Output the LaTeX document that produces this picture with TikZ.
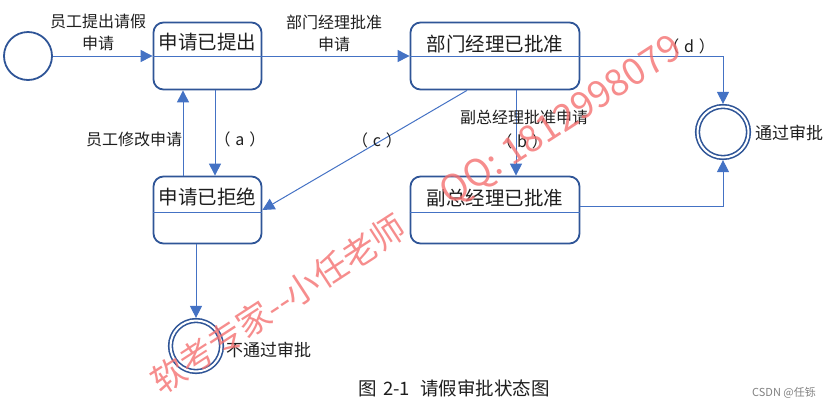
\documentclass[tikz,border=0pt]{standalone}
\usepackage{fontspec}
\setmainfont{Noto Sans CJK SC}
\usetikzlibrary{arrows.meta,calc}
\definecolor{boxc}{RGB}{47,85,151}
\definecolor{linec}{RGB}{68,114,196}
\definecolor{txt}{RGB}{30,30,30}
\definecolor{wmc}{RGB}{244,112,112}
\begin{document}
\begin{tikzpicture}[x=1pt,y=-1pt,
  stbox/.style={draw=boxc, line width=1.8pt, rounded corners=10pt, minimum height=67pt, inner sep=0pt},
  divl/.style={draw=linec, line width=1pt},
  arr/.style={draw=linec, line width=1pt, -{Triangle[length=12pt,width=12pt]}},
  initst/.style={circle, draw=boxc, line width=1.8pt, minimum size=48pt, inner sep=0pt},
  finst/.style={circle, draw=boxc, line width=1.6pt, double=white, double distance=2pt, minimum size=51pt, inner sep=0pt, outer sep=2.6pt},
  boxtxt/.style={text=txt, font=\fontsize{19.5}{22}\selectfont, inner sep=0pt},
  lbl/.style={text=txt, font=\fontsize{16}{22}\selectfont, inner sep=0pt, align=center},
  fintxt/.style={text=txt, font=\fontsize{17}{20}\selectfont, inner sep=0pt},
  wmark/.style={text=wmc, opacity=0.8, inner sep=0pt}
]
\path[use as bounding box] (0,0) rectangle (832,408);

% states
\node[initst] (init) at (28,56) {};
\node[stbox, minimum width=108pt] (b1) at (207.5,56) {};
\node[stbox, minimum width=169pt] (b2) at (495,56) {};
\node[stbox, minimum width=108pt] (b3) at (207.5,210) {};
\node[stbox, minimum width=169pt] (b4) at (495,210) {};
\node[finst] (f1) at (723,132) {};
\node[finst] (f2) at (196,346) {};

% dividers
\draw[divl] (b1.west) -- (b1.east);
\draw[divl] (b2.west) -- (b2.east);
\draw[divl] ([yshift=-2pt]b3.west) -- ([yshift=-2pt]b3.east);
\draw[divl] ([yshift=-2pt]b4.west) -- ([yshift=-2pt]b4.east);

% box texts
\node[boxtxt] (t1) at ([yshift=14pt]b1.center) {申请已提出};
\node[boxtxt] (t2) at ([yshift=12pt]b2.center) {部门经理已批准};
\node[boxtxt] (t3) at ([yshift=13pt]b3.center) {申请已拒绝};
\node[boxtxt] (t4) at ([yshift=12pt]b4.center) {副总经理已批准};

% connectors
\draw[arr] (init) -- (b1);
\draw[arr] (b1) -- (b2);
\draw[arr] (b2.east) -| (f1.north);
\draw[arr] ([yshift=4pt]b4.east) -| (f1.south);
\draw[arr] ([xshift=7.5pt]b1.south) -- ([xshift=7.5pt]b3.north);
\draw[arr] ([xshift=-24.5pt]b3.north) -- ([xshift=-24.5pt]b1.south);
\draw[arr] ([xshift=-28pt]b2.south) -- (b3.east);
\draw[arr] ([xshift=21pt]b2.south) -- ([xshift=21pt]b4.north);
\draw[arr] ([xshift=-11.5pt]b3.south) -- (f2.north);

% labels
\node[lbl] (l1) at (98,32) {员工提出请假\\申请};
\node[lbl] (l2) at (334,33) {部门经理批准\\申请};
\node[lbl] (l3) at (134,139) {员工修改申请};
\node[lbl] (la) at (240,139) {（\hspace{0.3em}a\hspace{0.3em}）};
\node[lbl] (lc) at (377,140) {（\hspace{0.3em}c\hspace{0.3em}）};
\node[lbl] (l4) at (524,117) {副总经理批准申请};
\node[lbl] (lb) at (522,141) {（\hspace{0.3em}b\hspace{0.3em}）};
\node[lbl] (ld) at (689,46) {（\hspace{0.3em}d\hspace{0.3em}）};
\node[fintxt, anchor=west] (lf1) at (755,133) {通过审批};
\node[fintxt, anchor=west] (lf2) at (226,350) {不通过审批};

% caption
\node[text=txt, font=\fontsize{18.5}{20}\selectfont, inner sep=0pt, anchor=west] (cap) at (358,388) {图\hspace{0.35em}2-1\hspace{0.55em}请假审批状态图};
\node[text=gray, font=\fontsize{11}{13}\selectfont, inner sep=0pt] (csdn) at (784,393) {CSDN @任铄};

% watermarks
\node[wmark, rotate=33, font=\fontsize{34}{36}\selectfont] (wm1) at (278,304) {软考专家-{}-小任老师};
\node[wmark, rotate=33, font=\fontsize{37}{39}\selectfont] (wm2) at (562,122) {QQ: 1812998079};
\end{tikzpicture}
\end{document}
